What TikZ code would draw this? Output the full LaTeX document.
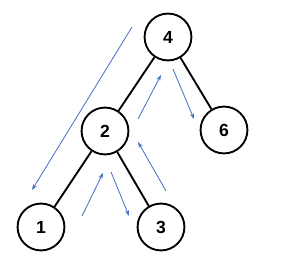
\documentclass[tikz,border=0pt]{standalone}
\usepackage{fontspec}
\setmainfont{Liberation Sans}
\definecolor{walkblue}{RGB}{68,114,196}
\usepackage{tikz}
\usetikzlibrary{
    arrows.meta
}
\tikzstyle{treenode} = [
    circle,
    draw=black,
    line width=1.6pt,
    minimum size=40pt,
    inner sep=0pt,
    font=\fontsize{15}{18}\selectfont\bfseries
]
\tikzstyle{edge} = [
    line width=1.6pt,
    draw=black
]
\tikzstyle{walk} = [
    -{Stealth[length=5pt,width=3.5pt]},
    line width=0.7pt,
    draw=walkblue
]

\begin{document}
\begin{tikzpicture}[x=0.03cm, y=-0.03cm]
        \useasboundingbox (0,0) rectangle (296,258);

        % Tree nodes
        \node[treenode] (n4) at (168,37) {4};
        \node[treenode] (n2) at (105,131) {2};
        \node[treenode] (n6) at (224,130) {6};
        \node[treenode] (n1) at (41,227) {1};
        \node[treenode] (n3) at (161,227) {3};

        % Tree edges
        \draw[edge] (n4) -- (n2);
        \draw[edge] (n4) -- (n6);
        \draw[edge] (n2) -- (n1);
        \draw[edge] (n2) -- (n3);

        % Traversal path
        \coordinate (a0) at (132,27);
        \coordinate (a1) at (32,190);
        \coordinate (b0) at (82,216);
        \coordinate (b1) at (103,173);
        \coordinate (c0) at (111,172);
        \coordinate (c1) at (129,216);
        \coordinate (d0) at (166,191);
        \coordinate (d1) at (138,142);
        \coordinate (e0) at (138,119);
        \coordinate (e1) at (161,75);
        \coordinate (f0) at (173,69);
        \coordinate (f1) at (194,119);
        \draw[walk] (a0) -- (a1);
        \draw[walk] (b0) -- (b1);
        \draw[walk] (c0) -- (c1);
        \draw[walk] (d0) -- (d1);
        \draw[walk] (e0) -- (e1);
        \draw[walk] (f0) -- (f1);
    \end{tikzpicture}
\end{document}
